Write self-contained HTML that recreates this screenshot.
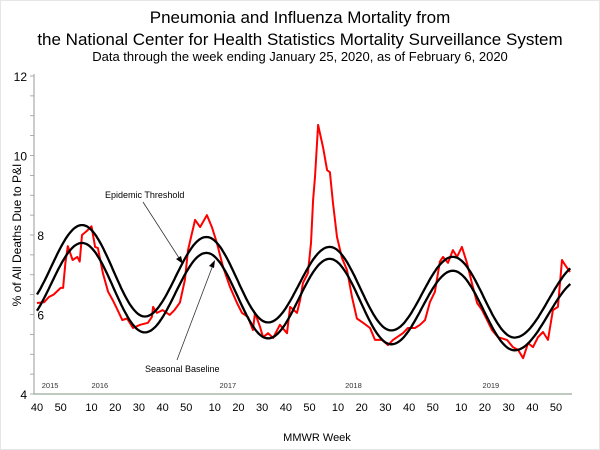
<!DOCTYPE html>
<html><head><meta charset="utf-8"><style>
html,body{margin:0;padding:0;background:#fff}
svg{display:block;font-family:"Liberation Sans",Arial,sans-serif}
</style></head><body>
<svg width="600" height="450" viewBox="0 0 600 450">
<rect x="0.5" y="0.5" width="599" height="449" fill="#fff" stroke="#ccc" stroke-dasharray="1,1"/>
<text x="300" y="23" text-anchor="middle" font-size="17">Pneumonia and Influenza Mortality from</text>
<text x="300" y="45" text-anchor="middle" font-size="17">the National Center for Health Statistics Mortality Surveillance System</text>
<text x="300" y="61" text-anchor="middle" font-size="13">Data through the week ending January 25, 2020, as of February 6, 2020</text>
<g id="axes"></g>
<g id="marks"></g>
<text transform="translate(21,235) rotate(-90)" text-anchor="middle" font-size="12">% of All Deaths Due to P&amp;I</text>
<text x="317" y="441" text-anchor="middle" font-size="11">MMWR Week</text>
<text x="105" y="198" font-size="9">Epidemic Threshold</text>
<line x1="143" y1="202" x2="181" y2="261" stroke="#333" stroke-width="0.8"/>
<polygon points="183,264 176,259 181,256" fill="#000"/>
<text x="145" y="372" font-size="9">Seasonal Baseline</text>
<line x1="177" y1="360" x2="213" y2="265" stroke="#333" stroke-width="0.8"/>
<polygon points="215,260 209,266 214,268" fill="#000"/>
</svg>
<script>
// Week index: 0 = 2015 week 40
const piWeeks = [0,3,5,7,10,11,12,13,15,17,18,19,21,23,24.5,25.7,27.8,30,32,34,36,38,40.5,43.5,46.8,48.5,49,50.6,53,56,58,60.3,62.4,63.7,65.4,66.7,68.8,71.7,73.8,75.9,78.5,81.4,84.4,86.5,89,91.1,92,94.1,95.4,97.5,99.6,102.5,105.5,106.8,109.7,111,112.2,114.3,115.6,116.5,117.3,118.6,120.7,122.4,123.6,124.9,126.6,128.7,130.8,132.9,135,137.6,140.5,142.6,145.6,148.1,150.2,151.9,154.4,156.5,159.5,161.6,163.7,165.8,167.9,170,171.3,173.4,175.5,177.2,179.3,181.4,183.5,185.7,187.8,189.9,192,194.5,198.3,200.8,203,205.1,207.2,209.3,211.4,213.5,215.6,217.7,219.8,221.5,222.8,224.9];
const piValues = [6.29,6.31,6.44,6.5,6.67,6.67,7.3,7.72,7.37,7.45,7.33,8.0,8.1,8.22,7.7,7.67,7.04,6.57,6.36,6.11,5.86,5.9,5.66,5.74,5.79,5.94,6.19,6.04,6.11,5.99,6.11,6.3,6.87,7.62,8.05,8.38,8.2,8.5,8.2,7.8,7.2,6.7,6.29,6.04,5.94,5.61,6.04,5.69,5.43,5.53,5.41,5.74,5.53,6.19,6.04,6.36,6.79,7.04,7.8,8.88,9.46,10.77,10.2,9.63,9.58,8.8,7.95,7.42,7.12,6.44,5.9,5.79,5.66,5.36,5.36,5.23,5.36,5.43,5.53,5.66,5.66,5.74,5.86,6.31,6.57,7.33,7.45,7.3,7.62,7.45,7.7,7.3,6.79,6.29,6.11,5.86,5.61,5.43,5.36,5.18,5.11,4.9,5.28,5.18,5.43,5.56,5.36,6.11,6.19,7.37,7.25,7.07];
const extremeWeeks = [-7,19,45.5,71.5,97.5,123.5,149.5,175.5,201.5,230];
const baselineExtremes = [5.75,7.8,5.55,7.55,5.4,7.4,5.25,7.1,5.1,6.9];
const thresholdExtremes = [6.15,8.25,5.95,7.95,5.8,7.7,5.6,7.45,5.42,7.3];
const yTicks = [4,6,8,10,12];
const yTickLabelX = [27,44,44,27,27];
const xTickWeeks = [0,10,23,33,43,53,63,75,85,95,105,115,127,137,147,157,167,179,189,199,209,219];
const xTickLabels = ["40","50","10","20","30","40","50","10","20","30","40","50","10","20","30","40","50","10","20","30","40","50"];
const yearWeeks = [2,23,77,130,188];
const yearLabels = ["2015","2016","2017","2018","2019"];

const NS="http://www.w3.org/2000/svg";
const X0=37, XW=2.37, Y0=394, YU=39.75;
const xs=w=>X0+w*XW;
const ys=v=>Y0-(v-4)*YU;
function mk(tag,attrs,parent){const e=document.createElementNS(NS,tag);for(const k in attrs)e.setAttribute(k,attrs[k]);parent.appendChild(e);return e;}
const axes=document.getElementById('axes'), marks=document.getElementById('marks');

let l=mk('line',{x1:34,y1:ys(12)-2,x2:34,y2:Y0,stroke:'#999','stroke-width':1},axes);


l=mk('line',{x1:34,y1:Y0,x2:572,y2:Y0,stroke:'#9a9','stroke-width':1.2},axes);


for(let v=4;v<=12.001;v+=0.5){
  const t=mk('line',{x1:30,y1:ys(v),x2:34,y2:ys(v),stroke:'#999','stroke-width':0.8},axes);
  
  
}
yTicks.forEach((v,i)=>{
  const t=mk('text',{x:yTickLabelX[i],y:ys(v)+5,'text-anchor':'end','font-size':12},axes);
  t.textContent=v;
  
  
});
xTickWeeks.forEach((w,i)=>{
  const t=mk('text',{x:xs(w),y:411,'text-anchor':'middle','font-size':11},axes);
  t.textContent=xTickLabels[i];
  
  
});
yearWeeks.forEach((w,i)=>{
  const t=mk('text',{x:xs(w),y:388,'font-size':7.5,fill:'#333'},axes);
  t.textContent=yearLabels[i];
  
  
});

function curve(ext){
  const pts=[];
  for(let w=0;w<=225;w+=0.5){
    let k=0;while(k<extremeWeeks.length-2&&extremeWeeks[k+1]<w)k++;
    const a=extremeWeeks[k],b=extremeWeeks[k+1];
    const f=(1-Math.cos(Math.PI*(w-a)/(b-a)))/2;
    const v=ext[k]+(ext[k+1]-ext[k])*f;
    pts.push(xs(w).toFixed(1)+','+ys(v).toFixed(1));
  }
  return pts.join(' ');
}
let p=mk('polyline',{points:piWeeks.map((w,i)=>xs(w).toFixed(1)+','+ys(piValues[i]).toFixed(1)).join(' '),fill:'none',stroke:'#f00','stroke-width':2,'stroke-linejoin':'round'},marks);


p=mk('polyline',{points:curve(thresholdExtremes),fill:'none',stroke:'#000','stroke-width':2.3},marks);


p=mk('polyline',{points:curve(baselineExtremes),fill:'none',stroke:'#000','stroke-width':2.3},marks);


</script>
</body></html>
